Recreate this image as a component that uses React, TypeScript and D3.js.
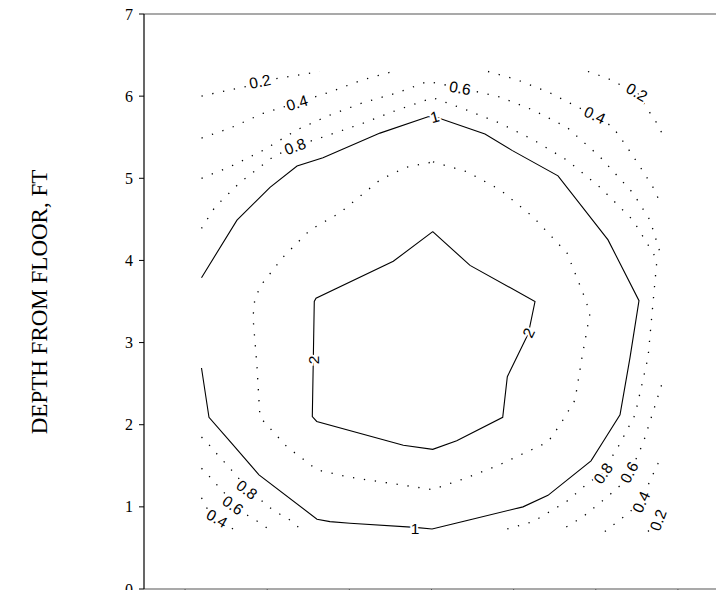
import React from "react";
import * as d3 from "d3";

type P = [number, number];

const yTicks = [0, 1, 2, 3, 4, 5, 6, 7];
const xTicks = [0.5, 1.5, 2.5, 3.5, 4.5, 5.5, 6.5];

// contour polylines, in data units (x, depth)
const c02TopLeft: P[] = [[0.7, 6.0], [0.925, 6.05], [1.254, 6.12], [1.412, 6.18], [1.656, 6.22], [2.14, 6.3]];
const c04TopLeft: P[] = [[0.7, 5.49], [1.047, 5.61], [1.449, 5.79], [1.863, 5.92], [2.264, 6.05], [2.666, 6.2], [3.031, 6.3]];
const c06Top: P[] = [[0.7, 5.0], [1.047, 5.14], [1.449, 5.34], [1.863, 5.59], [2.264, 5.77], [2.666, 5.92], [3.08, 6.04], [3.458, 6.18], [3.847, 6.1], [4.334, 5.99], [4.736, 5.83], [5.15, 5.62], [5.552, 5.26], [5.953, 4.82], [6.16, 4.49], [6.3, 4.04]];
const c06BottomRight: P[] = [[6.3, 2.48], [6.087, 1.81], [6.014, 1.63], [5.905, 1.42], [5.832, 1.29], [5.661, 1.14], [5.345, 0.88], [5.05, 0.7]];
const c06BottomLeft: P[] = [[0.7, 1.47], [0.779, 1.39], [0.864, 1.29], [0.95, 1.21], [1.084, 1.02], [1.254, 0.9], [1.437, 0.79], [1.55, 0.7]];
const c08Main: P[] = [[0.7, 4.39], [0.864, 4.65], [1.169, 4.95], [1.57, 5.26], [1.838, 5.39], [2.143, 5.49], [2.666, 5.67], [3.08, 5.83], [3.518, 5.98], [3.932, 5.83], [4.334, 5.67], [4.736, 5.47], [5.15, 5.22], [5.552, 4.89], [5.953, 4.49], [6.245, 4.01], [6.136, 2.82], [5.978, 2.12], [5.783, 1.75], [5.71, 1.63], [5.588, 1.41], [5.418, 1.3], [5.138, 1.06], [4.736, 0.82], [4.31, 0.7]];
const c08BottomLeft: P[] = [[0.7, 1.85], [0.779, 1.77], [0.864, 1.67], [1.01, 1.51], [1.144, 1.36], [1.254, 1.21], [1.388, 1.11], [1.57, 0.96], [1.777, 0.84], [1.94, 0.7]];
const c04TopRight: P[] = [[4.188, 6.3], [4.541, 6.2], [4.943, 6.04], [5.272, 5.87], [5.491, 5.77], [5.71, 5.62], [5.88, 5.38], [6.039, 5.14], [6.197, 4.89], [6.3, 4.67]];
const c02TopRight: P[] = [[5.405, 6.3], [5.637, 6.22], [5.795, 6.14], [6.002, 6.05], [6.136, 5.83], [6.221, 5.71], [6.3, 5.56]];
const c04BottomRight: P[] = [[5.61, 0.7], [5.868, 0.9], [6.051, 1.06], [6.148, 1.29], [6.258, 1.53], [6.3, 1.63]];
const c02BottomRight: P[] = [[6.136, 0.7], [6.258, 0.84], [6.3, 0.99]];
const c04BottomLeft: P[] = [[0.7, 1.11], [0.779, 0.96], [0.889, 0.86], [1.023, 0.78], [1.12, 0.7]];
const c10: P[] = [[0.7, 3.79], [1.132, 4.49], [1.534, 4.89], [1.863, 5.15], [2.179, 5.25], [2.873, 5.55], [3.458, 5.75], [3.542, 5.75], [4.151, 5.54], [4.48, 5.34], [5.04, 5.03], [5.649, 4.25], [6.026, 3.51], [5.917, 2.82], [5.795, 2.12], [5.6, 1.81], [5.442, 1.56], [4.918, 1.14], [4.614, 1.0], [3.92, 0.83], [3.507, 0.73], [3.299, 0.75], [2.508, 0.8], [2.264, 0.82], [2.106, 0.85], [1.4, 1.39], [1.071, 1.77], [0.791, 2.09], [0.7, 2.69]];
const c15: P[] = [[3.518, 5.2], [3.932, 5.08], [4.334, 4.86], [4.736, 4.53], [5.15, 4.09], [5.345, 3.6], [5.43, 3.36], [5.332, 2.82], [5.247, 2.3], [5.065, 2.0], [4.918, 1.79], [4.322, 1.51], [3.92, 1.35], [3.506, 1.21], [3.117, 1.27], [2.508, 1.36], [2.106, 1.45], [1.899, 1.61], [1.741, 1.73], [1.412, 2.09], [1.376, 2.7], [1.327, 3.31], [1.351, 3.55], [1.449, 3.73], [1.692, 4.04], [2.021, 4.37], [2.386, 4.58], [2.873, 4.98], [3.178, 5.13], [3.518, 5.2]];
const c20: P[] = [[3.515, 4.35], [3.035, 3.99], [2.094, 3.54], [2.073, 3.5], [2.061, 2.79], [2.049, 2.1], [2.103, 2.04], [3.157, 1.75], [3.515, 1.7], [3.807, 1.805], [4.367, 2.09], [4.423, 2.585], [4.679, 3.11], [4.76, 3.5], [3.969, 3.94], [3.515, 4.35]];

const dottedLines: P[][] = [c02TopLeft, c04TopLeft, c06Top, c06BottomRight, c06BottomLeft, c08Main, c08BottomLeft, c04TopRight, c02TopRight, c04BottomRight, c02BottomRight, c04BottomLeft, c15];
const solidLines: P[][] = [c10, c20];

const labelText = ["0.2", "0.4", "0.8", "0.6", "1", "0.4", "0.2", "2", "2", "1", "0.8", "0.6", "0.4", "0.8", "0.6", "0.4", "0.2"];
const labelX = [1.412, 1.863, 1.838, 3.847, 3.54, 5.49, 6.0, 2.06, 4.68, 3.3, 1.254, 1.084, 0.889, 5.588, 5.905, 6.05, 6.258];
const labelY = [6.18, 5.92, 5.39, 6.1, 5.75, 5.77, 6.05, 2.79, 3.12, 0.74, 1.21, 1.02, 0.86, 1.41, 1.42, 1.06, 0.84];
const labelAngle = [-12, -17, -20, 10, -15, 25, 30, -90, -65, 0, 38, 35, 30, -55, -62, -65, -70];

const W = 716;
const H = 590;

export default function App() {
  const x = d3.scaleLinear().domain([0, 7]).range([144, 719]);
  const y = d3.scaleLinear().domain([0, 7]).range([589, 14]);
  const line = d3.line<P>().x((d) => x(d[0])).y((d) => y(d[1]));

  return (
    <svg width={W} height={H} style={{ position: "absolute", left: 0, top: 0, background: "#fff" }}>
      <rect x={0} y={0} width={W} height={H} fill="#fff" />
      {/* frame */}
      <line x1={x(0)} x2={W} y1={y(7)} y2={y(7)} stroke="#555" strokeWidth={1.2} />
      <line x1={x(0)} x2={W} y1={y(0)} y2={y(0)} stroke="#555" strokeWidth={1.2} />
      <line x1={x(0)} x2={x(0)} y1={y(7)} y2={y(0)} stroke="#000" strokeWidth={1.2} />
      {yTicks.map((t) => (
        <g key={"yt" + t}>
          <line x1={x(0) - 5} x2={x(0)} y1={y(t)} y2={y(t)} stroke="#000" strokeWidth={1} />
          <text x={x(0) - 11} y={y(t)} dy="0.35em" textAnchor="end" fontFamily="Liberation Serif" fontSize={16} fill="#000">
            {t}
          </text>
        </g>
      ))}
      {xTicks.map((t) => (
        <line key={"xt" + t} x1={x(t)} x2={x(t)} y1={y(0)} y2={y(0) + 5} stroke="#555" strokeWidth={1} />
      ))}
      <text
        transform={`translate(47,302) rotate(-90)`}
        textAnchor="middle"
        fontFamily="Liberation Serif"
        fontSize={23}
        fill="#000"
      >
        DEPTH FROM FLOOR, FT
      </text>
      {dottedLines.map((d, i) => (
        <path key={"d" + i} d={line(d) || ""} fill="none" stroke="#000" strokeWidth={1.3} strokeDasharray="1.3 9.7" />
      ))}
      {solidLines.map((d, i) => (
        <path key={"s" + i} d={line(d) || ""} fill="none" stroke="#000" strokeWidth={1.1} />
      ))}
      {labelText.map((t, i) => (
        <text
          key={"l" + i}
          transform={`translate(${x(labelX[i])},${y(labelY[i])}) rotate(${labelAngle[i]})`}
          textAnchor="middle"
          dy="0.36em"
          fontFamily="Liberation Sans"
          fontSize={15.5}
          fill="#000"
          stroke="#fff"
          strokeWidth={4}
          paintOrder="stroke"
        >
          {t}
        </text>
      ))}
    </svg>
  );
}
